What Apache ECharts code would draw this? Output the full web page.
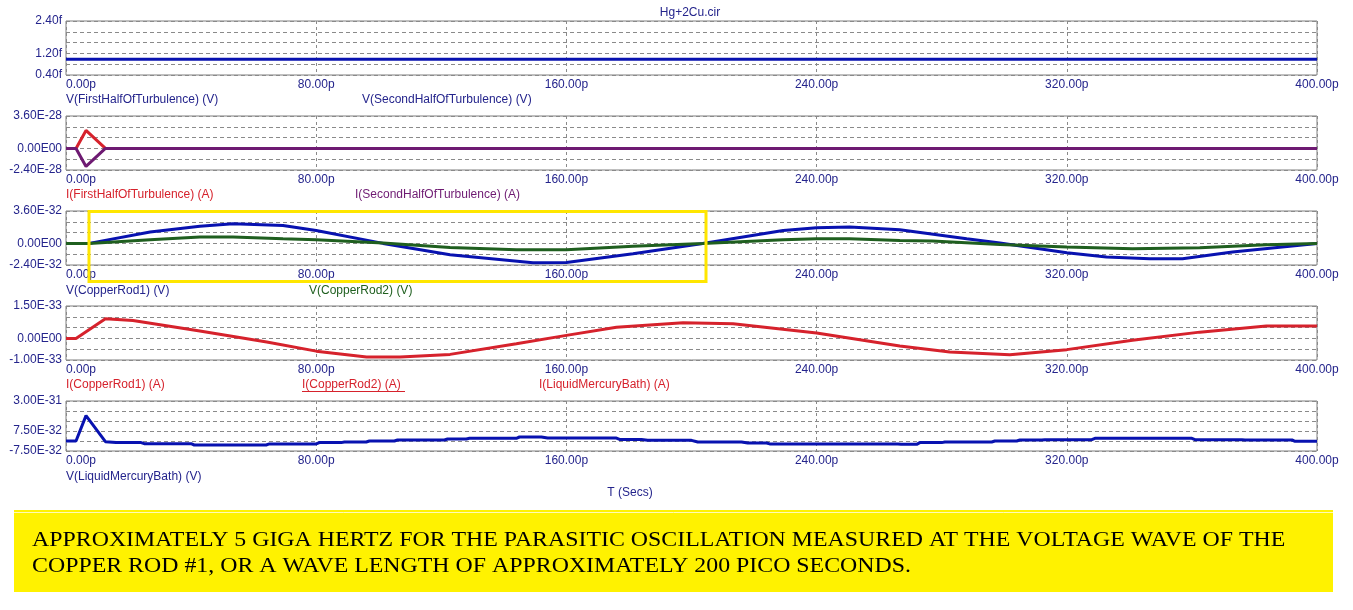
<!DOCTYPE html>
<html>
<head>
<meta charset="utf-8">
<title>Hg+2Cu.cir</title>
<script src="https://cdn.jsdelivr.net/npm/echarts@6/dist/echarts.min.js"></script>
<style>
  html, body { margin: 0; padding: 0; background: #fff; }
  #main { width: 1353px; height: 610px; }
</style>
</head>
<body>
<div id="main"></div>
<script>
// time axis, picoseconds
var tMin = 0, tMax = 400, tStep = 80;

// panel 1: V(FirstHalfOfTurbulence), units 0.1 fV
var vFirstHalf = [[0, 9.8], [400, 9.8]];
var yTicks1 = [[24, '2.40f'], [12, '1.20f'], [4, '0.40f']];

// panel 2: currents through the turbulence halves, units 1E-29 A
var iFirstHalf = [[0, 0], [3.2, 0], [6.4, 20], [12.6, 0], [400, 0]];
var iSecondHalf = [[0, 0], [3.2, 0], [6.4, -20], [12.6, 0], [400, 0]];
var yTicks2 = [[36, '3.60E-28'], [0, '0.00E00'], [-24, '-2.40E-28']];

// panel 3: copper rod voltages, units 1E-33 V
var vRod1 = [[0, 0], [7.4, 0], [26.9, 12.6], [42.8, 19], [53.4, 21.9], [69.4, 20], [80, 14.4],
  [101.4, 0], [122.8, -12.5], [149.3, -21.5], [160, -21.1], [181.3, -11.5], [203.6, 0],
  [229.3, 14.4], [240, 17.4], [250.6, 18.1], [266.6, 15.2], [288, 5.2], [298.6, 0.4],
  [320, -10.4], [332.7, -15.2], [346.5, -17], [357, -17], [373, -9.6], [400, 0]];
var vRod2 = [[0, 0], [7.4, 0], [26.9, 4.1], [42.8, 7], [53.4, 7], [69.4, 5.2], [80, 4.1],
  [101.4, 0.4], [122.8, -4.5], [144, -7], [160, -7], [181.3, -3.3], [203.6, 0],
  [229.3, 4.1], [240, 5.2], [250.6, 5.2], [266.6, 3.3], [277, 2.6], [298.6, -1.1],
  [320, -4.1], [341, -5.9], [362.5, -4.8], [383.8, -1.5], [400, 0]];
var yTicks3 = [[36, '3.60E-32'], [0, '0.00E00'], [-24, '-2.40E-32']];

// panel 4: I(CopperRod1), units 1E-34 A
var iRod1 = [[0, 0], [3.2, 0], [12.6, 9.1], [21.4, 8.3], [42.8, 3.4], [64.2, -1.7], [80, -5.9],
  [96.1, -8.6], [106.8, -8.6], [122.8, -7.4], [144, -2.5], [160, 1.4], [176, 5.2],
  [197.3, 7.3], [213.3, 6.8], [240, 2.5], [266.6, -3.5], [282.6, -6.3], [301.8, -7.6],
  [320, -5.2], [341, -0.9], [362.5, 2.9], [383.8, 5.7], [400, 5.7]];
var yTicks4 = [[15, '1.50E-33'], [0, '0.00E00'], [-10, '-1.00E-33']];

// panel 5: V(LiquidMercuryBath), units 1E-33 V
var vBath = [[0, 0], [3.2, 0], [6.4, 190], [12.6, -5], [16, -12], [24, -12], [25, -20], [40, -20],
  [41, -30], [64, -30], [65, -22], [80, -22], [81, -12], [88, -12], [89, -7.5], [96, -7.5],
  [97, 0], [105, 0], [106, 7.5], [121, 7.5], [122, 15], [128, 15], [129, 20], [144, 20],
  [145, 30], [152, 30], [154, 22], [176, 22], [177, 12], [184, 12], [186, 5], [200, 5],
  [202, -7.5], [216, -7.5], [218, -15], [224, -15], [225, -22], [266, -22], [267, -25],
  [272, -25], [273, -12], [280, -12], [281, -7.5], [296, -7.5], [297, 0], [304, 0],
  [305, 7.5], [312, 7.5], [313, 10], [328, 10], [329, 20], [360, 20], [361, 10], [376, 10],
  [377, 7.5], [392, 7.5], [393, -2.5], [400, -2.5]];
var yTicks5 = [[300, '3.00E-31'], [75, '7.50E-32'], [-75, '-7.50E-32']];

var NAVY = '#24248c', BLUE = '#0812b0', RED = '#d6222c', PURPLE = '#6e1a72', GREEN = '#1f5f1f';
var FONT = '"Liberation Sans", Arial, sans-serif';

var myChart = echarts.init(document.getElementById('main'));

var panels = [
  { top: 21, height: 54, min: 4, max: 24, step: 4, ticks: yTicks1 },
  { top: 116, height: 54, min: -24, max: 36, step: 12, ticks: yTicks2 },
  { top: 211, height: 54, min: -24, max: 36, step: 12, ticks: yTicks3 },
  { top: 306, height: 54, min: -10, max: 15, step: 5, ticks: yTicks4 },
  { top: 401, height: 50, min: -75, max: 300, step: 75, ticks: yTicks5 }
];

function tickText(ticks, v) {
  for (var i = 0; i < ticks.length; i++) {
    if (Math.abs(ticks[i][0] - v) < 1e-6) return ticks[i][1];
  }
  return '';
}

var grids = [], xAxes = [], yAxes = [];
panels.forEach(function (p, i) {
  grids.push({
    left: 66, right: 36, top: p.top, height: p.height,
    show: true, borderColor: '#7f7f7f', borderWidth: 1, backgroundColor: 'transparent'
  });
  xAxes.push({
    type: 'value', gridIndex: i, min: tMin, max: tMax, interval: tStep,
    axisLine: { show: false }, axisTick: { show: false },
    axisLabel: {
      color: NAVY, fontSize: 12, fontFamily: FONT, margin: 4,
      alignMinLabel: 'left',
      formatter: function (v) { return v.toFixed(2) + 'p'; }
    },
    splitLine: { show: true, lineStyle: { color: '#8a8a8a', type: [3, 3], width: 1 } }
  });
  yAxes.push({
    type: 'value', gridIndex: i, min: p.min, max: p.max, interval: p.step,
    axisLine: { show: false }, axisTick: { show: false },
    axisLabel: {
      color: NAVY, fontSize: 12, fontFamily: FONT, margin: 4,
      formatter: function (v) { return tickText(p.ticks, v); }
    },
    splitLine: { show: true, lineStyle: { color: '#8a8a8a', type: [4, 3], width: 1 } }
  });
});

function line(name, idx, data, color) {
  return {
    name: name, type: 'line', xAxisIndex: idx, yAxisIndex: idx, data: data,
    showSymbol: false, smooth: false, animation: false,
    lineStyle: { color: color, width: 3 }, itemStyle: { color: color }
  };
}

function label(text, x, y, color, align) {
  return {
    type: 'text', x: x, y: y, z: 10,
    style: { text: text, fill: color, fontSize: 12, fontFamily: FONT,
      align: align || 'left', verticalAlign: 'middle' }
  };
}

var option = {
  backgroundColor: '#ffffff',
  animation: false,
  grid: grids,
  xAxis: xAxes,
  yAxis: yAxes,
  series: [
    line('V(FirstHalfOfTurbulence) (V)', 0, vFirstHalf, BLUE),
    line('I(FirstHalfOfTurbulence) (A)', 1, iFirstHalf, RED),
    line('I(SecondHalfOfTurbulence) (A)', 1, iSecondHalf, PURPLE),
    line('V(CopperRod1) (V)', 2, vRod1, BLUE),
    line('V(CopperRod2) (V)', 2, vRod2, GREEN),
    line('I(CopperRod1) (A)', 3, iRod1, RED),
    line('V(LiquidMercuryBath) (V)', 4, vBath, BLUE)
  ],
  graphic: [
    label('Hg+2Cu.cir', 690, 13, NAVY, 'center'),
    label('V(FirstHalfOfTurbulence) (V)', 66, 100, NAVY),
    label('V(SecondHalfOfTurbulence) (V)', 362, 100, NAVY),
    label('I(FirstHalfOfTurbulence) (A)', 66, 195, RED),
    label('I(SecondHalfOfTurbulence) (A)', 355, 195, PURPLE),
    label('V(CopperRod1) (V)', 66, 291, NAVY),
    label('V(CopperRod2) (V)', 309, 291, GREEN),
    label('I(CopperRod1) (A)', 66, 385, RED),
    label('I(CopperRod2) (A)', 302, 385, RED),
    { type: 'line', z: 10, shape: { x1: 302, y1: 391.5, x2: 405, y2: 391.5 },
      style: { stroke: RED, lineWidth: 1 } },
    label('I(LiquidMercuryBath) (A)', 539, 385, RED),
    label('V(LiquidMercuryBath) (V)', 66, 477, NAVY),
    label('T (Secs)', 630, 493, NAVY, 'center'),
    // highlight box around one oscillation period
    { type: 'rect', z: 20, shape: { x: 89, y: 211.5, width: 617, height: 70 },
      style: { fill: 'none', stroke: '#ffe600', lineWidth: 3 } },
    // note box
    { type: 'rect', z: 5, shape: { x: 14, y: 510, width: 1319, height: 82 },
      style: { fill: '#fff200' } },
    { type: 'line', z: 6, shape: { x1: 14, y1: 512.5, x2: 1333, y2: 512.5 },
      style: { stroke: '#fffbb8', lineWidth: 1 } },
    { type: 'text', z: 7, x: 32, y: 527, scaleX: 1.084,
      style: {
        text: 'APPROXIMATELY 5 GIGA HERTZ FOR THE PARASITIC OSCILLATION MEASURED AT THE VOLTAGE WAVE OF THE\nCOPPER ROD #1, OR A WAVE LENGTH OF APPROXIMATELY 200 PICO SECONDS.',
        fill: '#000', fontSize: 22, lineHeight: 26,
        fontFamily: '"Liberation Serif", "Times New Roman", serif',
        align: 'left', verticalAlign: 'top'
      } }
  ]
};

myChart.setOption(option);
</script>
</body>
</html>
